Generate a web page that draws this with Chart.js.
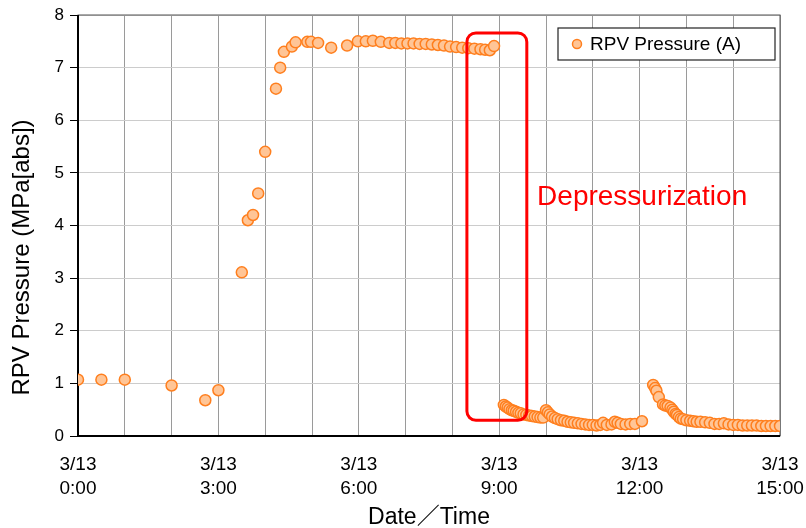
<!DOCTYPE html>
<html>
<head>
<meta charset="utf-8">
<script src="https://cdn.jsdelivr.net/npm/chart.js@4.4.1/dist/chart.umd.min.js"></script>
<style>
  html, body { margin: 0; padding: 0; background: #fff; }
  canvas { display: block; }
</style>
</head>
<body>
<canvas id="chart" width="806" height="528"></canvas>
<script>
// hours after 3/13 0:00
const rampHours = [0, 0.5, 1.0, 2.0, 2.72, 3.0, 3.5, 3.63, 3.74, 3.85, 4.0, 4.23, 4.32, 4.4, 4.57, 4.65,
  4.9, 4.98, 5.13, 5.41, 5.75, 5.98, 6.15, 6.3, 6.47];
const rampMPa = [1.07, 1.07, 1.07, 0.96, 0.68, 0.87, 3.11, 4.1, 4.2, 4.61, 5.4, 6.6, 7.0, 7.3, 7.4, 7.48,
  7.49, 7.49, 7.47, 7.38, 7.42, 7.5, 7.5, 7.51, 7.49];

const holdHours = [6.65, 6.78, 6.91, 7.04, 7.17, 7.3, 7.43, 7.56, 7.69, 7.82, 7.95, 8.08, 8.21, 8.34,
  8.47, 8.6, 8.7, 8.8, 8.89];
const holdMPa = [7.47, 7.47, 7.46, 7.46, 7.46, 7.45, 7.45, 7.44, 7.43, 7.42, 7.4, 7.39, 7.38, 7.37,
  7.36, 7.35, 7.34, 7.33, 7.41];

const ventHours = [9.1, 9.14, 9.18, 9.22, 9.27, 9.31, 9.36, 9.41, 9.46, 9.52, 9.58, 9.64, 9.7, 9.76,
  9.82, 9.88, 9.94, 10.0, 10.04, 10.08, 10.13, 10.19, 10.25, 10.32, 10.39, 10.46, 10.53, 10.6, 10.68,
  10.76, 10.84, 10.92, 11.0, 11.08, 11.16, 11.22, 11.3, 11.4, 11.47, 11.53, 11.6, 11.7, 11.8, 11.9, 12.05];
const ventMPa = [0.59, 0.56, 0.54, 0.51, 0.49, 0.48, 0.46, 0.44, 0.43, 0.41, 0.4, 0.39, 0.38, 0.37,
  0.36, 0.35, 0.35, 0.49, 0.45, 0.41, 0.37, 0.34, 0.32, 0.3, 0.29, 0.27, 0.26, 0.25, 0.24,
  0.23, 0.22, 0.21, 0.21, 0.2, 0.21, 0.25, 0.21, 0.22, 0.27, 0.25, 0.23, 0.22, 0.23, 0.23, 0.28];

const laterHours = [12.29, 12.33, 12.36, 12.41, 12.5, 12.55, 12.6, 12.66, 12.7, 12.73, 12.77, 12.8,
  12.84, 12.88, 12.93, 13.0, 13.08, 13.15, 13.22, 13.3, 13.4, 13.5, 13.6, 13.7, 13.8, 13.9, 14.0,
  14.1, 14.2, 14.3, 14.4, 14.5, 14.6, 14.7, 14.8, 14.9, 15.0];
const laterMPa = [0.97, 0.91, 0.86, 0.74, 0.6, 0.58, 0.57, 0.54, 0.5, 0.46, 0.42, 0.4,
  0.36, 0.33, 0.32, 0.3, 0.29, 0.28, 0.27, 0.27, 0.26, 0.25, 0.23, 0.23, 0.24, 0.22, 0.21,
  0.21, 0.2, 0.2, 0.2, 0.2, 0.19, 0.19, 0.19, 0.19, 0.19];

const dateLabel = "3/13";
const yTicks = [0, 1, 2, 3, 4, 5, 6, 7, 8];
const yTitle = "RPV Pressure (MPa[abs])";

// red box around the venting, in data units
const boxHours = [8.31, 9.59];
const boxMPa = [0.3, 7.66];
const noteText = "Depressurization";
const noteAt = [9.81, 4.54];

const hours = rampHours.concat(holdHours, ventHours, laterHours);
const mpa = rampMPa.concat(holdMPa, ventMPa, laterMPa);
const points = hours.map((h, i) => ({ x: h, y: mpa[i] }));

const sansFont = '"Liberation Sans", Arial, sans-serif';
const titleFont = '"Liberation Sans", "Noto Sans CJK JP", sans-serif';

const frameAndNotes = {
  id: "frameAndNotes",
  beforeDatasetsDraw(chart) {
    const { ctx, chartArea: a } = chart;
    ctx.save();
    ctx.strokeStyle = "#555";
    ctx.lineWidth = 1;
    ctx.strokeRect(a.left, a.top, a.right - a.left, a.bottom - a.top);
    ctx.strokeStyle = "#000";
    ctx.lineWidth = 2;
    ctx.beginPath();
    ctx.moveTo(a.left, a.top);
    ctx.lineTo(a.left, a.bottom);
    ctx.lineTo(a.right, a.bottom);
    ctx.stroke();

    // y axis title, sits a bit below the middle like the original
    ctx.save();
    ctx.translate(22, (a.top + a.bottom) / 2 + 32);
    ctx.rotate(-Math.PI / 2);
    ctx.fillStyle = "#000";
    ctx.font = "24px " + sansFont;
    ctx.textAlign = "center";
    ctx.textBaseline = "middle";
    ctx.fillText(yTitle, 0, 0);
    ctx.restore();

    // legend
    const lx = a.right - 222, ly = a.top + 13, lw = 217, lh = 32;
    ctx.fillStyle = "#fff";
    ctx.fillRect(lx, ly, lw, lh);
    ctx.strokeStyle = "#222";
    ctx.lineWidth = 1.2;
    ctx.strokeRect(lx, ly, lw, lh);
    const ds = chart.data.datasets[0];
    ctx.beginPath();
    ctx.arc(lx + 19, ly + lh / 2, 4.5, 0, Math.PI * 2);
    ctx.fillStyle = ds.backgroundColor;
    ctx.fill();
    ctx.strokeStyle = ds.borderColor;
    ctx.lineWidth = 1.5;
    ctx.stroke();
    ctx.fillStyle = "#000";
    ctx.font = "19px " + sansFont;
    ctx.textBaseline = "middle";
    ctx.fillText(ds.label, lx + 32, ly + lh / 2 + 1);
    ctx.restore();
  },
  afterDatasetsDraw(chart) {
    const { ctx, scales: { x, y } } = chart;
    ctx.save();
    const x0 = x.getPixelForValue(boxHours[0]), x1 = x.getPixelForValue(boxHours[1]);
    const y0 = y.getPixelForValue(boxMPa[1]), y1 = y.getPixelForValue(boxMPa[0]);
    ctx.strokeStyle = "#ff0000";
    ctx.lineWidth = 3;
    ctx.beginPath();
    ctx.roundRect(x0, y0, x1 - x0, y1 - y0, 9);
    ctx.stroke();
    ctx.fillStyle = "#ff0000";
    ctx.font = "28px " + sansFont;
    ctx.textBaseline = "middle";
    ctx.fillText(noteText, x.getPixelForValue(noteAt[0]), y.getPixelForValue(noteAt[1]));
    ctx.restore();
  }
};

new Chart(document.getElementById("chart"), {
  type: "scatter",
  data: {
    datasets: [{
      label: "RPV Pressure (A)",
      data: points,
      backgroundColor: "#ffc596",
      borderColor: "#ff7f1e",
      borderWidth: 1.5,
      pointRadius: 5.5,
      pointHoverRadius: 5.5
    }]
  },
  options: {
    responsive: false,
    animation: false,
    devicePixelRatio: 1,
    layout: { padding: { top: 15, right: 26, left: 0, bottom: 0 } },
    plugins: {
      legend: { display: false },
      tooltip: { enabled: false }
    },
    scales: {
      x: {
        type: "linear",
        min: 0,
        max: 15,
        afterFit(scale) {
          scale.height = 92;
          scale.paddingLeft = 0;
          scale.paddingRight = 0;
        },
        afterBuildTicks(scale) {
          scale.ticks = Array.from({ length: 16 }, (_, i) => ({ value: i }));
        },
        ticks: {
          autoSkip: false,
          maxRotation: 0,
          padding: 17,
          color: "#000",
          font: { family: sansFont, size: 19, lineHeight: 1.26 },
          callback: (v) => (v % 3 === 0 ? [dateLabel, v + ":00"] : "")
        },
        grid: { color: "#9a9a9a", lineWidth: 1, drawTicks: false },
        border: { display: false },
        title: {
          display: true,
          text: "Date／Time",
          color: "#000",
          font: { family: titleFont, size: 23, lineHeight: 0.9 },
          padding: { top: 0, bottom: 0 }
        }
      },
      y: {
        min: 0,
        max: 8,
        afterFit(scale) {
          scale.width = 78;
          scale.paddingTop = 0;
          scale.paddingBottom = 0;
        },
        afterBuildTicks(scale) {
          scale.ticks = yTicks.map((v) => ({ value: v }));
        },
        ticks: {
          padding: 6,
          color: "#000",
          font: { family: sansFont, size: 17 }
        },
        grid: { color: "#cccccc", lineWidth: 1, tickLength: 8, tickColor: "#000" },
        border: { display: false },
        title: { display: false }
      }
    }
  },
  plugins: [frameAndNotes]
});
</script>
</body>
</html>
